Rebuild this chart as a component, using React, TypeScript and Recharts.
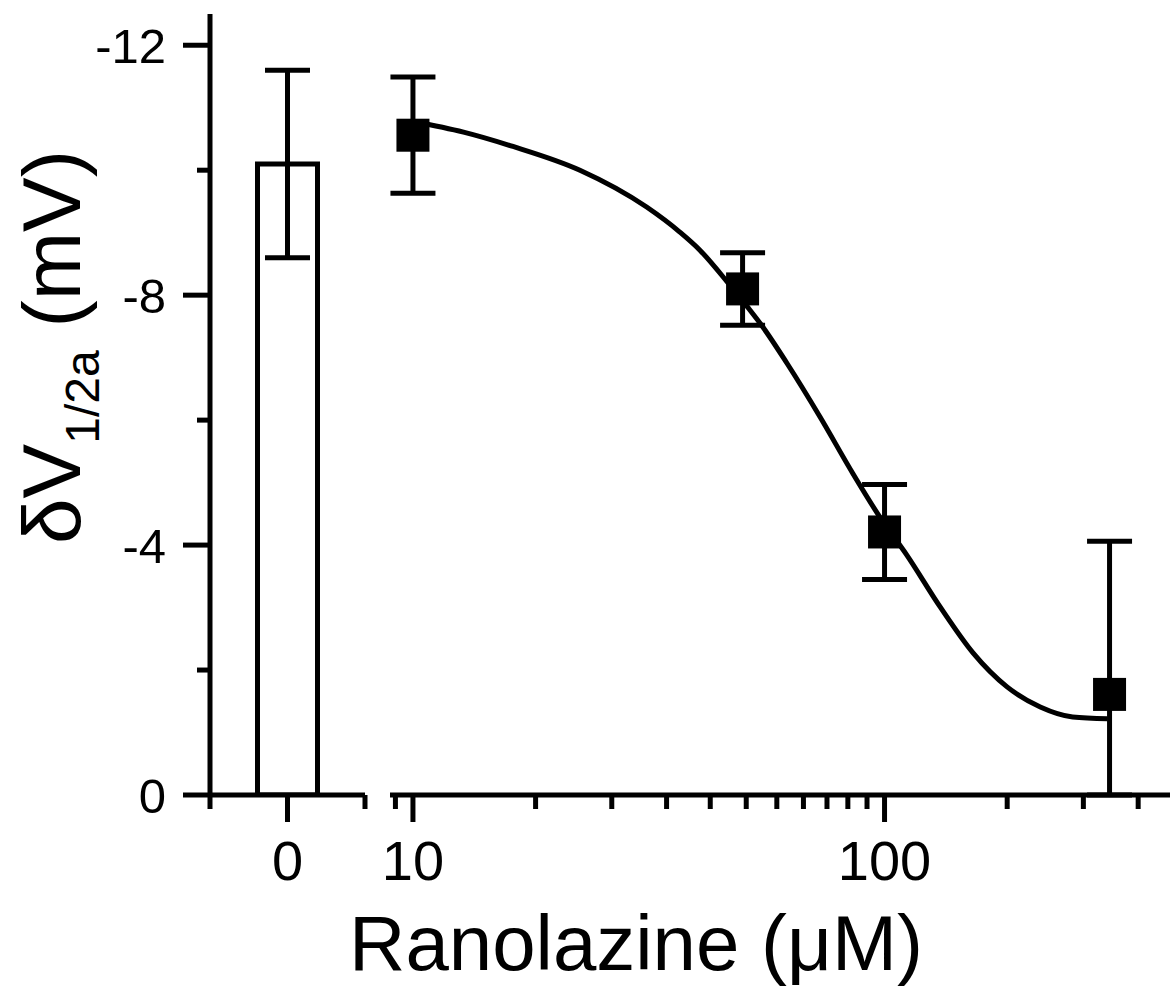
import { ComposedChart, Bar, Line, Scatter, XAxis, YAxis, ErrorBar } from "recharts";

// y axis (mV), drawn reversed so negative shifts go up
const yTicks = [0, -2, -4, -6, -8, -10, -12];
const yLabeled = [0, -4, -8, -12];

// control bar (0 uM)
const barX = [0];
const barValues = [-10.1];
const barErrors = [1.5];
const leftTicks = [-1, 0, 1];
const leftLabeled = [0];

// ranolazine points
const concentrations = [10, 50, 100, 300];
const shiftValues = [-10.56, -8.1, -4.21, -1.61];
const errLow = [0.93, 0.58, 0.76, 2.45];
const errHigh = [0.93, 0.58, 0.76, 1.61];

// fitted curve
const fitConc = [10, 12.8, 16.3, 22.6, 31.3, 36.8, 40.6, 46.3, 51.1, 55.2, 62.1, 73, 85.6, 97.7, 111.5, 131.2, 154.2, 181.9, 213.9, 250.6, 297.2];
const fitValues = [-10.78, -10.61, -10.38, -10.0, -9.41, -9.01, -8.72, -8.22, -7.82, -7.49, -6.91, -6.05, -5.15, -4.45, -3.84, -3.01, -2.27, -1.73, -1.41, -1.25, -1.22];

// log axis ticks
const logTicks = [9.18, 10, 18.2, 26.4, 34.5, 42.7, 50.9, 59.1, 67.3, 75.5, 83.6, 91.8, 100, 182, 264, 345];
const logLabeled = [10, 100];

const FONT = "'Liberation Sans', Arial, sans-serif";
const SW = 5;

const barData = barX.map((x, i) => ({ x, v: barValues[i], err: barErrors[i] }));
const pointData = concentrations.map((c, i) => ({ c, v: shiftValues[i], err: [errLow[i], errHigh[i]] }));
const fitData = fitConc.map((c, i) => ({ c, v: fitValues[i] }));

function XTick(props: any) {
  const { x, y, payload, labeled } = props;
  const major = labeled.includes(payload.value);
  return (
    <g>
      <line x1={x} x2={x} y1={y} y2={y + (major ? 27 : 14)} stroke="#000" strokeWidth={SW} />
      {major && (
        <text x={x} y={y + 85} textAnchor="middle" fontSize={56} fontFamily={FONT} fill="#000">
          {payload.value}
        </text>
      )}
    </g>
  );
}

function YTick(props: any) {
  const { x, y, payload } = props;
  const major = yLabeled.includes(payload.value);
  return (
    <g>
      <line x1={x} x2={x - (major ? 27 : 13)} y1={y} y2={y} stroke="#000" strokeWidth={SW} />
      {major && (
        <text x={x - 44} y={y} dy="0.36em" textAnchor="end" fontSize={49} fontFamily={FONT} fill="#000">
          {payload.value}
        </text>
      )}
    </g>
  );
}

function Square(props: any) {
  const { cx, cy } = props;
  return <rect x={cx - 16.5} y={cy - 16.5} width={33} height={33} fill="#000" />;
}

const axisLine = { stroke: "#000", strokeWidth: SW };

export default function App() {
  return (
    <div style={{ position: "absolute", left: 0, top: 0, width: 1173, height: 994, background: "#fff" }}>
      <div style={{ position: "absolute", left: 0, top: 0 }}>
        <ComposedChart width={380} height={994} data={barData} margin={{ top: 14, right: 15, bottom: 0, left: 0 }}>
          <XAxis
            type="number"
            dataKey="x"
            domain={[-1, 1]}
            allowDataOverflow
            ticks={leftTicks}
            interval={0}
            tickSize={0}
            tickMargin={0}
            tickLine={false}
            tick={<XTick labeled={leftLabeled} />}
            axisLine={axisLine}
            height={199}
          />
          <YAxis
            type="number"
            domain={[-12.5, 0]}
            allowDataOverflow
            reversed
            ticks={yTicks}
            interval={0}
            tickSize={0}
            tickMargin={0}
            tickLine={false}
            tick={<YTick />}
            axisLine={axisLine}
            width={210}
            label={{
              content: () => (
                <text
                  x={80}
                  y={347}
                  transform="rotate(-90, 80, 347)"
                  textAnchor="middle"
                  fontSize={82}
                  fontFamily={FONT}
                  fill="#000"
                >
                  δV
                  <tspan fontSize={48} dy={19}>1/2a</tspan>
                  <tspan dy={-19}> (mV)</tspan>
                </text>
              ),
            }}
          />
          <Bar dataKey="v" barSize={60} fill="#fff" stroke="#000" strokeWidth={SW} isAnimationActive={false}>
            <ErrorBar dataKey="err" direction="y" width={22.5} stroke="#000" strokeWidth={SW} />
          </Bar>
        </ComposedChart>
      </div>
      <div style={{ position: "absolute", left: 0, top: 0 }}>
        <ComposedChart width={1173} height={994} margin={{ top: 14, right: 3, bottom: 0, left: 390 }}>
          <XAxis
            type="number"
            dataKey="c"
            scale="log"
            domain={[8.94, 403]}
            allowDataOverflow
            ticks={logTicks}
            interval={0}
            tickSize={0}
            tickMargin={0}
            tickLine={false}
            tick={<XTick labeled={logLabeled} />}
            axisLine={axisLine}
            height={199}
            label={{
              content: () => (
                <text x={636} y={970} textAnchor="middle" fontSize={78} fontFamily={FONT} fill="#000">
                  Ranolazine (μM)
                </text>
              ),
            }}
          />
          <YAxis type="number" dataKey="v" hide domain={[-12.5, 0]} allowDataOverflow reversed />
          <Line
            data={fitData}
            dataKey="v"
            type="monotone"
            stroke="#000"
            strokeWidth={SW}
            dot={false}
            activeDot={false}
            isAnimationActive={false}
          />
          <Scatter data={pointData} dataKey="v" shape={<Square />} isAnimationActive={false}>
            <ErrorBar dataKey="err" direction="y" width={22.5} stroke="#000" strokeWidth={SW} />
          </Scatter>
        </ComposedChart>
      </div>
    </div>
  );
}
